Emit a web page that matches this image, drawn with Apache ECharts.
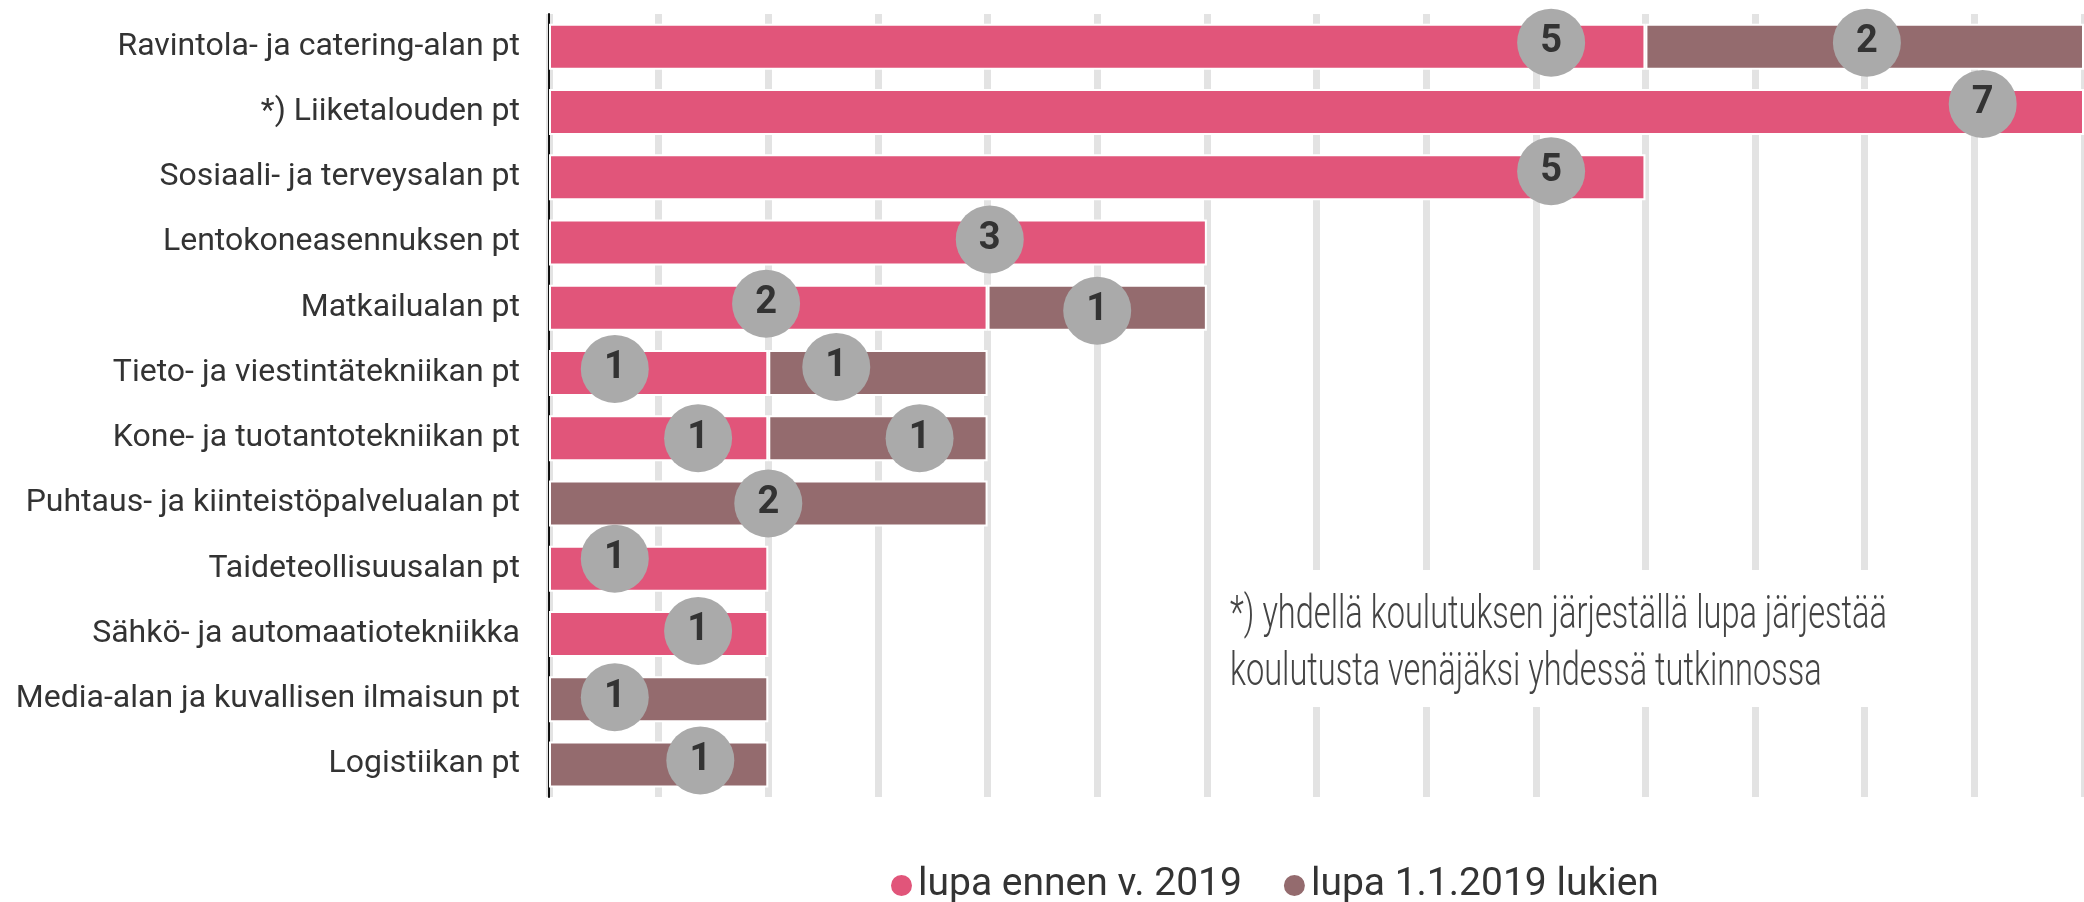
<!DOCTYPE html>
<html>
<head>
<meta charset="utf-8">
<title>Venäjänkieliset tutkinnot</title>
<script src="https://cdn.jsdelivr.net/npm/echarts@6/dist/echarts.min.js"></script>
<style>
  html, body { margin: 0; padding: 0; background: #fff; }
  #chart { width: 2084px; height: 902px; }
</style>
</head>
<body>
<div id="chart"></div>
<script>
const categories = [
  'Ravintola- ja catering-alan pt',
  '*) Liiketalouden pt',
  'Sosiaali- ja terveysalan pt',
  'Lentokoneasennuksen pt',
  'Matkailualan pt',
  'Tieto- ja viestintätekniikan pt',
  'Kone- ja tuotantotekniikan pt',
  'Puhtaus- ja kiinteistöpalvelualan pt',
  'Taideteollisuusalan pt',
  'Sähkö- ja automaatiotekniikka',
  'Media-alan ja kuvallisen ilmaisun pt',
  'Logistiikan pt'
]
const seriesNames = ['lupa ennen v. 2019', 'lupa 1.1.2019 lukien']
const before2019 = [5, 7, 5, 3, 2, 1, 1, 0, 1, 1, 0, 0]
const from2019 = [2, 0, 0, 0, 1, 1, 1, 2, 0, 0, 1, 1]
const footnote = ['*) yhdellä koulutuksen järjeställä lupa järjestää', 'koulutusta venäjäksi yhdessä tutkinnossa']

// where the number bubble sits inside each segment (fraction of bar length) and its vertical nudge
const bubbleAtBefore = [0.914, 0.934, 0.914, 0.67, 0.495, 0.30, 0.68, 0, 0.30, 0.68, 0, 0]
const bubbleAtFrom = [0.505, 0, 0, 0, 0.50, 0.31, 0.69, 0.50, 0, 0, 0.30, 0.69]
const bubbleDyBefore = [-4, -8, -6, -3, -4, -4, 0, 0, -10, -3, 0, 0]
const bubbleDyFrom = [-4, 0, 0, 0, 3, -6, 0, 0, 0, 0, -2, -4]

const colors = ['#e1557a', '#946b6e']
const font = 'Roboto, "Noto Sans", sans-serif'

const bubble = {
  show: true,
  align: 'center',
  verticalAlign: 'middle',
  width: 68,
  height: 68,
  lineHeight: 68,
  borderRadius: 34,
  backgroundColor: '#aaaaaa',
  color: '#333',
  fontFamily: font,
  fontWeight: 'bold',
  fontSize: 38
}

const buildData = (values, at, dy) => values.map((v, i) => {
  if (!v) return '-'
  return {
    value: v,
    label: { ...bubble, position: [(at[i] * 100) + '%', '50%'], offset: [0, dy[i]] }
  }
})

const chart = echarts.init(document.getElementById('chart'))
chart.setOption({
  animation: false,
  color: colors,
  grid: { left: 549, right: -6, top: 14, bottom: 105 },
  legend: {
    data: seriesNames,
    top: 861,
    left: 884,
    icon: 'circle',
    itemWidth: 23,
    itemHeight: 23,
    itemGap: 40,
    textStyle: { fontFamily: font, fontSize: 39, color: '#333' }
  },
  xAxis: {
    type: 'value',
    min: 0,
    max: 7,
    interval: 0.5,
    axisLine: { show: false },
    axisTick: { show: false },
    axisLabel: { show: false },
    splitLine: { show: true, lineStyle: { color: '#e3e3e3', width: 7 } }
  },
  yAxis: {
    type: 'category',
    inverse: true,
    data: categories,
    axisLine: { lineStyle: { color: '#111', width: 2 } },
    axisTick: { alignWithLabel: true, length: 17, lineStyle: { color: '#111', width: 2 } },
    axisLabel: { margin: 29, fontFamily: font, fontSize: 32, color: '#333' }
  },
  series: [
    {
      name: seriesNames[0],
      type: 'bar',
      stack: 'lupa',
      barWidth: 46,
      data: buildData(before2019, bubbleAtBefore, bubbleDyBefore),
      itemStyle: { borderColor: '#fff', borderWidth: 2 }
    },
    {
      name: seriesNames[1],
      type: 'bar',
      stack: 'lupa',
      barWidth: 46,
      data: buildData(from2019, bubbleAtFrom, bubbleDyFrom),
      itemStyle: { borderColor: '#fff', borderWidth: 2 }
    }
  ],
  graphic: [
    {
      type: 'rect',
      z: 50,
      x: 1222,
      y: 570,
      shape: { width: 676, height: 137 },
      style: { fill: '#fff' }
    },
    {
      type: 'text',
      z: 51,
      x: 1230,
      y: 588,
      scaleX: 0.708,
      style: {
        text: footnote.join('\n'),
        fontFamily: font,
        fontWeight: 300,
        fontSize: 46,
        lineHeight: 57,
        fill: '#444'
      }
    }
  ]
})
window.addEventListener('resize', () => chart.resize())
</script>
</body>
</html>
